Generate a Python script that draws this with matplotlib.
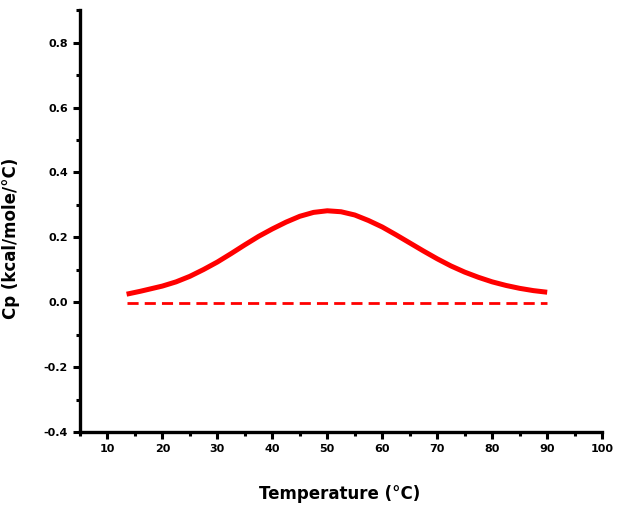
import matplotlib
matplotlib.use("Agg")
import matplotlib.pyplot as plt
from matplotlib.ticker import MultipleLocator

# values
temp = [13.5, 16, 18, 20, 22.5, 25, 27.5, 30, 32.5, 35, 37.5, 40, 42.5, 45, 47.5,
        50, 52.5, 55, 57.5, 60, 62.5, 65, 67.5, 70, 72.5, 75, 77.5, 80, 82.5,
        85, 87.5, 90]
cp = [0.025, 0.034, 0.042, 0.050, 0.063, 0.080, 0.101, 0.124, 0.150, 0.177,
      0.203, 0.226, 0.247, 0.265, 0.277, 0.282, 0.279, 0.269, 0.252, 0.232,
      0.208, 0.183, 0.158, 0.134, 0.112, 0.093, 0.077, 0.063, 0.052, 0.043,
      0.036, 0.031]
base_t = [13.5, 90]
base_cp = [-0.003, -0.003]

yticks = [-0.4, -0.2, 0.0, 0.2, 0.4, 0.6, 0.8]
xticks = [10, 20, 30, 40, 50, 60, 70, 80, 90, 100]

fig = plt.figure(figsize=(6.24, 5.09), dpi=100)
ax = fig.add_axes([0.128, 0.151, 0.837, 0.829])

ax.plot(temp, cp, color="red", lw=3.6, solid_capstyle="butt")
ax.plot(base_t, base_cp, color="red", lw=2, dashes=(4, 2.2))

ax.set_xlim(5, 100)
ax.set_ylim(-0.4, 0.9)
ax.set_xticks(xticks)
ax.set_yticks(yticks)
ax.set_yticklabels([f"{v:.1f}" for v in yticks])
ax.xaxis.set_minor_locator(MultipleLocator(5))
ax.yaxis.set_minor_locator(MultipleLocator(0.1))

for s in ["top", "right"]:
    ax.spines[s].set_visible(False)
for s in ["left", "bottom"]:
    ax.spines[s].set_linewidth(2.4)

ax.tick_params(which="major", direction="out", length=5, width=2.2,
               labelsize=8)
ax.tick_params(which="minor", direction="out", length=3, width=2.2)
for lbl in ax.get_xticklabels() + ax.get_yticklabels():
    lbl.set_fontweight("bold")

ax.set_xlabel("Temperature (°C)", fontsize=12, fontweight="bold")
ax.set_ylabel("Cp (kcal/mole/°C)", fontsize=12, fontweight="bold")
ax.xaxis.set_label_coords(0.498, -0.126)
ax.yaxis.set_label_coords(-0.115, 0.46)

fig.savefig("out.png", dpi=100)
